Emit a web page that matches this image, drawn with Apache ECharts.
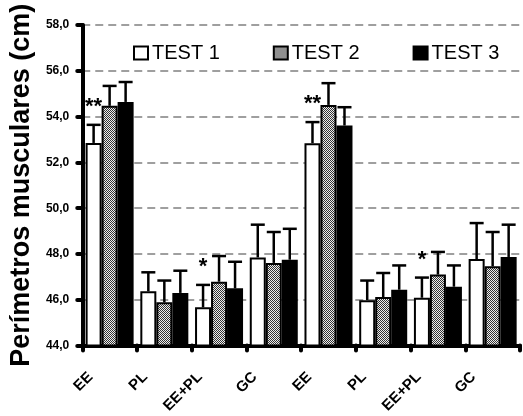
<!DOCTYPE html>
<html><head><meta charset="utf-8">
<script src="https://cdn.jsdelivr.net/npm/echarts@6/dist/echarts.min.js"></script>
<style>html,body{margin:0;padding:0;background:#fff}#c{width:523px;height:416px}</style>
</head><body><div id="c"></div>
<script>
const categories = ["EE","PL","EE+PL","GC","EE","PL","EE+PL","GC"];
const test1 = [52.85, 46.37, 45.67, 47.85, 52.84, 45.98, 46.09, 47.78];
const test2 = [54.47, 45.89, 46.79, 47.61, 54.51, 46.12, 47.10, 47.46];
const test3 = [54.64, 46.30, 46.50, 47.75, 53.61, 46.44, 46.57, 47.87];
const err1 = [0.79, 0.83, 0.98, 1.43, 0.92, 0.86, 0.88, 1.57];
const err2 = [0.87, 0.95, 1.12, 1.35, 0.95, 1.05, 0.99, 1.50];
const err3 = [0.87, 0.97, 1.16, 1.35, 0.80, 1.06, 0.93, 1.41];
const sig1 = ["**", "", "*", "", "**", "", "*", ""];
const seriesNames = ["TEST 1", "TEST 2", "TEST 3"];
const yTicks = [44, 46, 48, 50, 52, 54, 56, 58];

const FONT = "'Liberation Sans', Arial, sans-serif";

// halftone pattern for TEST 2
const pc = document.createElement('canvas');
pc.width = 2; pc.height = 2;
const pctx = pc.getContext('2d');
pctx.fillStyle = '#eeeeee'; pctx.fillRect(0,0,2,2);
pctx.fillStyle = '#333'; pctx.fillRect(0,0,1,1); pctx.fillRect(1,1,1,1);
const pattern = {image: pc, repeat: 'repeat'};

const fills = ['#ffffff', pattern, '#000000'];
const values = [test1, test2, test3];
const errs = [err1, err2, err3];
const offsets = [-16, 0, 16];

const series = [];
values.forEach((vals, k) => {
  series.push({
    name: seriesNames[k], type: 'bar', barWidth: 16, barGap: '0%',
    data: vals,
    itemStyle: {color: fills[k], borderColor: '#000', borderWidth: 2},
    z: 2
  });
});
values.forEach((vals, k) => {
  series.push({
    name: 'err' + k, type: 'custom', z: 3,
    data: vals.map((v, i) => [i, v, errs[k][i]]),
    renderItem: function (params, api) {
      const i = api.value(0), v = api.value(1), e = api.value(2);
      const b = api.coord([i, v]);
      const t = api.coord([i, v + e]);
      const x = b[0] + offsets[k];
      const children = [
        {type: 'line', shape: {x1: x, y1: b[1], x2: x, y2: t[1]}, style: {stroke: '#000', lineWidth: 2.5}},
        {type: 'line', shape: {x1: x - 7, y1: t[1], x2: x + 7, y2: t[1]}, style: {stroke: '#000', lineWidth: 2.5}}
      ];
      if (k === 0 && sig1[i]) {
        children.push({type: 'text', style: {text: sig1[i], x: x, y: t[1] - 7, align: 'center', verticalAlign: 'bottom', fontSize: 22, fontWeight: 'bold', fontFamily: FONT, fill: '#000'}});
      }
      return {type: 'group', children: children};
    }
  });
});

const chart = echarts.init(document.getElementById('c'));
chart.setOption({
  animation: false,
  backgroundColor: '#fff',
  grid: {left: 70, right: 3, top: 25, bottom: 69},
  legend: {
    data: seriesNames, left: 133, top: 43, padding: 0, itemWidth: 14, itemHeight: 13, itemGap: 53,
    icon: 'rect',
    textStyle: {fontSize: 20, fontFamily: FONT, color: '#000', padding: [0,0,0,-1]}
  },
  xAxis: {
    type: 'category', data: categories,
    axisLine: {lineStyle: {color: '#000', width: 4}},
    axisTick: {show: true, length: 5, lineStyle: {color: '#000', width: 4, cap: 'round'}},
    axisLabel: {rotate: 45, fontSize: 15, fontWeight: 'bold', fontFamily: FONT, color: '#000', margin: 10,
      padding: [0, 27, 0, 0]}
  },
  yAxis: {
    type: 'value', min: 44, max: 58, interval: 2,
    name: 'Perímetros musculares (cm)', nameLocation: 'middle', nameGap: 37,
    nameTextStyle: {fontSize: 27, fontWeight: 'bold', fontFamily: FONT, color: '#000'},
    axisLine: {show: true, lineStyle: {color: '#000', width: 4}},
    axisTick: {show: true, length: 5, lineStyle: {color: '#000', width: 4, cap: 'round'}},
    axisLabel: {fontSize: 12, fontWeight: 'bold', fontFamily: FONT, color: '#000', margin: 13,
      formatter: v => yTicks.includes(v) ? v.toFixed(1).replace('.', ',') : ''},
    splitLine: {show: true, lineStyle: {color: '#808080', type: [8, 5], width: 1.5}}
  },
  series: series
});
</script></body></html>
